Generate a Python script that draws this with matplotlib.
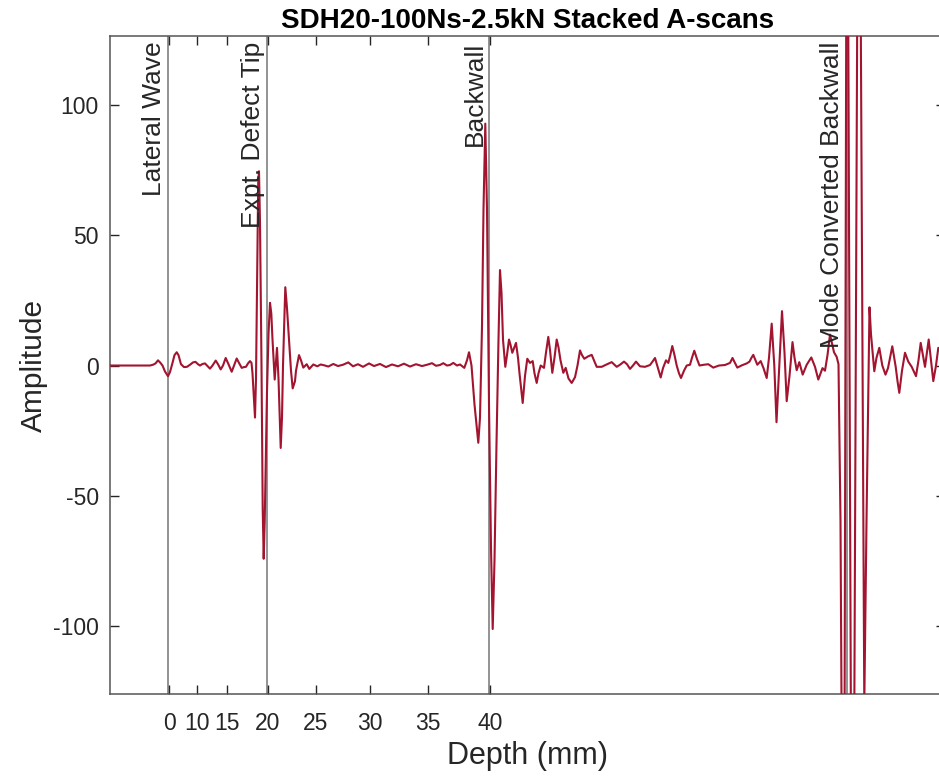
import matplotlib
matplotlib.use("Agg")
import matplotlib.pyplot as plt
import numpy as np

plt.rcParams['font.family'] = ['Liberation Sans', 'DejaVu Sans']
plt.rcParams['axes.unicode_minus'] = False

# A-scan trace: (sample, amplitude)
ascan = [
    (0, 0), (40, 0), (43, 0.3), (45.5, 0.8), (48, 2), (50.5, 1), (52.5, 0), (55, -2.3),
    (58, -4.1), (60, -2.5), (62.5, 1), (64.5, 4), (66.7, 5.1), (68.5, 4), (71, 0.5),
    (74, -0.6), (77, -0.5), (80, 0.3), (83, 1.2), (85.5, 1.4), (88, 0.5), (90, 0),
    (92.5, 0.6), (95, 0.8), (97.5, -0.2), (100, -1.2), (102.5, 0), (105.7, 1.9), (108, 0.5),
    (110.7, -1.5), (113, 0), (115.7, 2.9), (118.5, 0.5), (121.7, -2.4), (124, 0),
    (126.7, 2.7), (129, 1), (131.7, -0.9), (134, -0.6), (136, -0.5), (138, 0.8), (140, 1.7),
    (141.5, 1), (142.5, -3), (143.8, -12), (145, -20), (146, -5), (147, 30), (148.2, 70),
    (149, 74.7), (150, 55), (151.5, 0), (152.7, -55), (153.7, -74.3), (154.7, -60),
    (157, -10), (158.5, 12), (160, 24.1), (161.3, 20), (162.5, 10), (164.7, -5.4),
    (167, 6.8), (168.5, -5), (170.7, -31.7), (172, -20), (173, 0), (175.3, 30.1), (177, 22),
    (179, 10), (181, -2), (182.7, -8.8), (185, -6), (186, -2), (189, 4), (191, 2),
    (193.3, -0.8), (196.7, 0.5), (199.3, -1.3), (203.3, 0.4), (207.3, -0.3), (210.7, 0.4),
    (215, 0), (218.3, -0.4), (223.3, 0.6), (228, -0.2), (233, 0.3), (238.3, 1.2),
    (243, -0.3), (248, 0.5), (253, -0.5), (259, 0.8), (264, -0.2), (270, 0.6), (276, -0.6),
    (282, 0.4), (288, -0.3), (294, 0.7), (300, -0.4), (306, 0.5), (312, -0.2), (318, 0.4),
    (322, 0.9), (326, -0.1), (330, 0.2), (333.3, 0.9), (337, 0), (340, 0.2), (343.3, 1),
    (347, 0), (350, 0.4), (354.3, -0.9), (357, 2), (359, 5.1), (361.5, 0), (364.5, -15),
    (368.3, -29.7), (370, -20), (372, 15), (373.5, 60), (375.3, 93), (377, 60), (379, -15),
    (381, -70), (382.7, -101.3), (384.5, -75), (386.5, -30), (388.5, 10), (390, 36.7),
    (391.5, 28), (393, 10), (395.3, -0.5), (397, 4), (399, 10), (400.5, 8), (402.3, 4.9),
    (406, 8.7), (408, 3), (409.5, -3), (412.7, -14.4), (415, -4), (417.3, 2.6), (420, 1),
    (422.7, 1.7), (424.5, -3), (426.7, -6.7), (428.5, -3), (430.7, 0), (434, -0.9),
    (436, 5), (438.3, 11), (440, 6), (442.3, -2.8), (444.5, 3), (446.7, 10), (448.5, 7),
    (450.5, 2), (453.3, -2.8), (455.7, -0.9), (458.5, -5), (461.7, -6.7), (465, -4.5),
    (467.5, 0), (470, 5.8), (472, 4), (474.3, 2.6), (478, 3.5), (481.7, 4.1), (484, 2),
    (486.7, -0.5), (491.7, -0.5), (496, 0.3), (501.7, 1.3), (506.7, -0.5), (510, 0.3),
    (514, 1.5), (517, 0.5), (520, -1.3), (523, 0), (526, 1.5), (530, -0.3), (535, -0.5),
    (540, 0.2), (542.5, 1.5), (545, 2.9), (548, -1), (550.7, -4.6), (553, -1), (556, 2),
    (558.3, 1), (560.3, 4), (562.3, 7.5), (564.5, 4), (566.7, 0), (569, -3), (571, -4.8),
    (574, -2), (576.7, 0), (580, 0.3), (582, 3), (584.3, 5.7), (587, 2.5), (589.5, 0),
    (594, 0.3), (598.3, 0.5), (603.3, -0.8), (609, 0), (615, 0.2), (620, 1), (622.5, 2.9),
    (625, 1), (627.3, -0.8), (632, 0.1), (636.7, 0.8), (639.5, 1.5), (641.5, 3),
    (643.3, 4.1), (645.5, 2), (647.3, 0.3), (650.7, 1.7), (653.5, -1), (656.7, -4.8),
    (659, 3), (661.7, 16.1), (664.3, 0), (666.5, -21.8), (669.3, 0), (672, 20.9),
    (674.5, 5), (676.7, -13.7), (679.5, -4), (682.5, 9), (684.5, 3), (686.7, -1.8),
    (689.3, 1.3), (692.7, -3.5), (696.7, 0.3), (701.3, 3.1), (705, -0.5), (708.3, -5.4),
    (712.5, -1), (715, -2), (717.5, 4), (720, 11.9), (724, 5.1), (726.7, 3.3),
    (728.5, 0.5), (730.5, -60), (733.7, -280), (737, 260), (742.5, -300), (748.8, 280),
    (754.3, -130), (756.5, -60), (759.5, 22.4), (761, 12), (764.3, -2.2), (766.5, 3),
    (769.3, 6.8), (772.3, 0), (775.5, -3.5), (778, -1), (782.3, 7.4), (785.7, -0.5),
    (787.5, -6), (789.3, -10.5), (792, -2), (795, 4.9), (798.3, 1.5), (801.7, -0.5),
    (806, -4.1), (808.5, 2), (810.7, 8.7), (815, -0.5), (818.7, 10), (821, 2), (823.3, -6),
    (826, 0), (828.3, 6.8), (831, 5), (835, -4),
]
sample = np.array([p[0] for p in ascan])
amplitude = np.array([p[1] for p in ascan])

# depth tick marks (placed on the sample axis)
depth_tick_pos = [59, 86.5, 117.3, 157.5, 206, 260, 318, 380]
depth_tick_labels = ['0', '10', '15', '20', '25', '30', '35', '40']

# reference lines
marker_pos = [58.3, 157.3, 379.3, 736.7]
marker_labels = ['Lateral Wave', 'Expt. Defect Tip', 'Backwall', 'Mode Converted Backwall']

fig = plt.figure(figsize=(9.39, 7.77), dpi=100)
ax = fig.add_axes([110/939, 83/777, 835/939, 658/777])

for xp in marker_pos:
    ax.axvline(xp, color='#8a8a8a', lw=1.3, zorder=1)

ax.plot(sample, amplitude, color='#A2142F', lw=1.5, zorder=3)

for xp, lab in zip(marker_pos, marker_labels):
    ax.annotate(lab, xy=(xp, 1), xycoords=('data', 'axes fraction'),
                xytext=(-2, -4), textcoords='offset points',
                rotation=90, ha='right', va='top', fontsize=19, color='#262626', zorder=4)

ax.set_xlim(0, 835)
ax.set_ylim(-126.3, 126.7)
ax.set_xticks(depth_tick_pos)
ax.set_xticklabels(depth_tick_labels)
ax.set_yticks([-100, -50, 0, 50, 100])

ax.tick_params(direction='in', length=6.5, width=1, top=True, right=True,
               labelsize=16.5, colors='#262626')
ax.tick_params(axis='x', pad=13)
ax.tick_params(axis='y', pad=8)
for s in ax.spines.values():
    s.set_color('#555555')
    s.set_linewidth(1.1)

ax.set_xlabel('Depth (mm)', fontsize=22, color='#262626', labelpad=4)
ax.set_ylabel('Amplitude', fontsize=21.5, color='#262626', labelpad=4)
ax.set_title('SDH20-100Ns-2.5kN Stacked A-scans', fontsize=20, fontweight='bold', pad=6)

plt.savefig('out.png', dpi=100)
